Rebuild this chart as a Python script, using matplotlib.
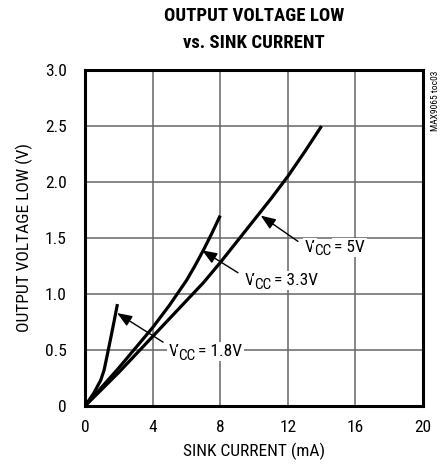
"""
Output voltage low vs. sink current (MAX9065 toc03)
"""
import matplotlib
matplotlib.use('Agg')
import matplotlib.pyplot as plt

# data
cur_18 = [0, 0.5, 0.93, 1.13, 1.42, 1.7, 1.92]
volt_18 = [0, 0.11, 0.23, 0.32, 0.53, 0.74, 0.91]

cur_33 = [0, 1, 2, 3, 4, 5, 6, 6.5, 7, 7.5, 8]
volt_33 = [0, 0.17, 0.34, 0.52, 0.70, 0.90, 1.12, 1.25, 1.39, 1.54, 1.70]

cur_5 = [0, 1, 2, 3, 4, 5, 6, 7, 8, 9, 10, 11, 12, 13, 14]
volt_5 = [0, 0.15, 0.30, 0.46, 0.62, 0.78, 0.94, 1.10, 1.28, 1.47, 1.66, 1.85, 2.05, 2.27, 2.50]

x_ticks = [0, 4, 8, 12, 16, 20]
y_ticks = [0, 0.5, 1.0, 1.5, 2.0, 2.5, 3.0]
y_tick_labels = ['0', '0.5', '1.0', '1.5', '2.0', '2.5', '3.0']

plt.rcParams['font.family'] = ['Roboto Condensed', 'DejaVu Sans']

FS = 12.5

fig = plt.figure(figsize=(4.46, 4.70), dpi=100)
ax = fig.add_axes([85 / 446, 64 / 470, 338 / 446, 336 / 470])

# grid
ax.set_xlim(0, 20)
ax.set_ylim(0, 3.0)
ax.set_xticks(x_ticks)
ax.set_yticks(y_ticks)
ax.set_yticklabels(y_tick_labels)
ax.grid(True, color='#666666', linewidth=1.1)
ax.set_axisbelow(True)
ax.tick_params(length=0, labelsize=FS)
ax.tick_params(axis='y', pad=13)
ax.tick_params(axis='x', pad=10)
for s in ax.spines.values():
    s.set_linewidth(2.2)
    s.set_color('black')

# curves
for c, v in [(cur_18, volt_18), (cur_33, volt_33), (cur_5, volt_5)]:
    ax.plot(c, v, color='black', linewidth=2.3, solid_capstyle='butt',
            solid_joinstyle='round', zorder=3)

box = dict(boxstyle='square,pad=0.12', facecolor='white', edgecolor='none')


def vcc_label(x, y, rest):
    # "V" + lowered "CC" + " = ..." with a white background over the grid
    t1 = ax.text(x, y, 'V', fontsize=FS, ha='left', va='baseline', bbox=box, zorder=4)
    t2 = ax.annotate('CC', xy=(1, 0), xycoords=t1, xytext=(-0.8, -2.5),
                     textcoords='offset points', ha='left', va='bottom',
                     fontsize=FS * 0.88, bbox=box, zorder=4)
    ax.annotate('= ' + rest, xy=(1, 0), xycoords=t2, xytext=(2.5, 2.5),
                textcoords='offset points', ha='left', va='bottom',
                fontsize=FS, bbox=box, zorder=4)


def pointer(tail, tip):
    ax.annotate('', xy=tip, xytext=tail,
                arrowprops=dict(arrowstyle='-|>,head_length=0.9,head_width=0.35',
                                color='black', linewidth=1.0, shrinkA=0, shrinkB=0),
                zorder=4)


vcc_label(13.02, 1.375, '5V')
pointer((12.6, 1.47), (10.4, 1.70))
vcc_label(9.47, 1.08, '3.3V')
pointer((9.05, 1.19), (6.93, 1.39))
vcc_label(4.97, 0.446, '1.8V')
pointer((4.62, 0.57), (1.9, 0.83))

ax.set_xlabel('SINK CURRENT (mA)', fontsize=FS, labelpad=6)
ax.set_ylabel('OUTPUT VOLTAGE LOW (V)', fontsize=FS, labelpad=9)

fig.text(254 / 446, 1 - 16 / 470, 'OUTPUT VOLTAGE LOW', ha='center', va='center',
         fontsize=13.5, fontweight='bold')
fig.text(254 / 446, 1 - 43 / 470, 'vs. SINK CURRENT', ha='center', va='center',
         fontsize=13.5, fontweight='bold')
fig.text(435 / 446, 1 - 71 / 470, 'MAX9065 toc03', rotation=90,
         ha='center', va='top', fontsize=6.8)

fig.savefig('out.png', dpi=100)
